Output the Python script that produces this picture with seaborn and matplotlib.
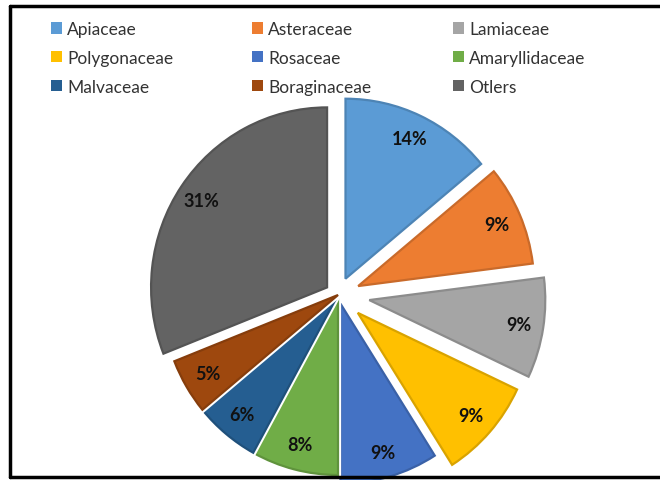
import matplotlib
matplotlib.use("Agg")
import matplotlib.pyplot as plt
import seaborn as sns
from matplotlib.patches import Patch
from matplotlib.lines import Line2D
from matplotlib.colors import to_rgb
import matplotlib.patheffects as pe

families = ["Apiaceae", "Asteraceae", "Lamiaceae", "Polygonaceae", "Rosaceae",
            "Amaryllidaceae", "Malvaceae", "Boraginaceae", "Otlers"]
shares = [14, 9, 9, 9, 9, 8, 6, 5, 31]
colors = ["#5B9BD5", "#ED7D31", "#A5A5A5", "#FFC000", "#4472C4",
          "#70AD47", "#255E91", "#9E480E", "#636363"]
explode = [0.10, 0.125, 0.18, 0.15, 0.05, 0.0, 0.0, 0.0, 0.075]

sns.set_theme(style="white")
plt.rcParams["font.family"] = ["Lato", "DejaVu Sans"]

W, H = 660, 481
fig = plt.figure(figsize=(W / 100, H / 100), dpi=100)
ax = fig.add_axes([0, 0, 1, 1])

edge = [tuple(c * 0.85 for c in to_rgb(col)) for col in colors]
wedges, texts, autotexts = ax.pie(
    shares, colors=colors, startangle=90, counterclock=False,
    explode=explode, autopct="%d%%", pctdistance=0.86,
    wedgeprops=dict(linewidth=1.6),
    textprops=dict(fontsize=13, fontweight="bold", color="#111111"))
for w, ec in zip(wedges, edge):
    w.set_edgecolor(ec)
    w.set_path_effects([pe.Stroke(linewidth=4.5, foreground="white"), pe.Normal()])

# map pie units to the pixel layout of the reference
cx, cy, Rx, Ry = 338, 296, 176, 180
ax.set_aspect("auto")
ax.set_xlim(-cx / Rx, (W - cx) / Rx)
ax.set_ylim(-(H - cy) / Ry, cy / Ry)
ax.axis("off")

# legend: three columns
col_x = [51, 252, 453]
for c in range(3):
    idx = [c, c + 3, c + 6]
    handles = [Patch(facecolor=colors[i], edgecolor="none") for i in idx]
    fig.legend(handles, [families[i] for i in idx], loc="upper left",
               bbox_to_anchor=(col_x[c] / W, 1 - 22 / H), frameon=False,
               fontsize=12.5, handlelength=0.63, handleheight=0.63,
               handletextpad=0.3, labelspacing=0.74, borderaxespad=0,
               borderpad=0, labelcolor="#333333")

# frame
for (x0, y0, x1, y1) in [(10, 7, W, 7), (10, 7, 10, 478), (10, 478, W, 478)]:
    fig.add_artist(Line2D([x0 / W, x1 / W], [1 - y0 / H, 1 - y1 / H],
                          color="black", linewidth=2.5, transform=fig.transFigure))

fig.savefig("out.png", dpi=100)
